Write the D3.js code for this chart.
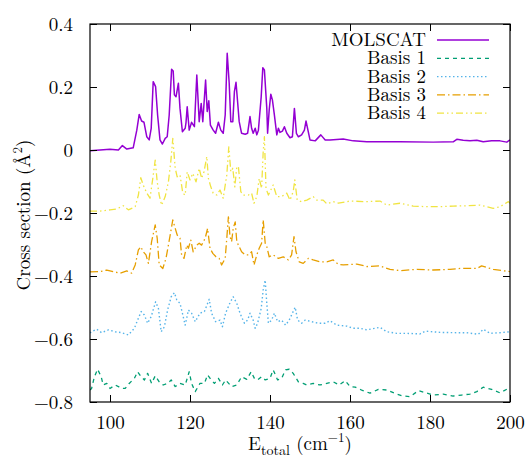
<!DOCTYPE html>
<html>
<head>
<meta charset="utf-8">
<script src="https://cdn.jsdelivr.net/npm/d3@7"></script>
<style>
  html, body { margin: 0; padding: 0; background: #fff; }
  svg { display: block; }
</style>
</head>
<body>
<svg id="chart" width="527" height="456"></svg>
<script>
// Cross sections vs total energy; basis-set curves are shifted down for clarity.
// Each series: [E_total (cm^-1), plotted cross section (Å^2)]
const molscat = [
  [95,-0.002],[100,0.002],[102.1,0.000],[103.1,0.014],[104.2,0.003],[105.8,0.007],[106.7,0.063],
  [107.3,0.113],[107.9,0.092],[108.5,0.088],[109.2,0.042],[109.8,0.032],[110.3,0.069],[110.8,0.217],
  [111.4,0.201],[111.9,0.111],[112.5,0.032],[113.1,0.019],[113.8,0.037],[114.3,0.042],[114.8,0.111],
  [115.4,0.256],[115.8,0.251],[116.1,0.175],[116.5,0.169],[117.1,0.212],[117.5,0.132],[118.1,0.058],
  [118.8,0.069],[119.0,0.087],[119.3,0.137],[119.8,0.063],[120.4,0.088],[121.1,0.074],[121.7,0.238],
  [122.3,0.090],[122.8,0.148],[123.2,0.090],[123.9,0.222],[124.3,0.122],[124.7,0.156],[125.1,0.079],
  [125.8,0.063],[126.4,0.053],[127.1,0.088],[127.7,0.063],[128.3,0.053],[128.8,0.111],[129.3,0.307],
  [129.8,0.212],[130.2,0.090],[130.7,0.090],[131.1,0.185],[131.5,0.215],[131.9,0.153],[132.3,0.090],
  [132.9,0.053],[133.8,0.050],[134.4,0.053],[135.0,0.106],[135.4,0.069],[135.8,0.053],[136.3,0.069],
  [136.7,0.048],[137.1,0.063],[137.8,0.169],[138.2,0.261],[138.6,0.254],[139.2,0.132],[139.4,0.053],
  [139.8,0.127],[140.2,0.177],[140.6,0.159],[141.1,0.111],[141.7,0.048],[142.1,0.069],[142.5,0.056],
  [143.1,0.060],[143.6,0.074],[144.2,0.053],[145.0,0.039],[145.6,0.042],[146.1,0.132],[146.6,0.053],
  [147.1,0.042],[147.9,0.048],[148.6,0.063],[149.0,0.092],[150.0,0.032],[151.3,0.029],[152.7,0.048],
  [153.8,0.032],[155.0,0.032],[158.3,0.035],[160.8,0.029],[164.2,0.026],[172.5,0.026],[180.8,0.025],
  [185.8,0.026],[186.7,0.034],[188.3,0.031],[190.0,0.029],[191.7,0.031],[193.3,0.026],[195.4,0.029],
  [197.5,0.029],[199.2,0.025],[200,0.032]
];

const basis1 = [
  [95,-0.762],[95.4,-0.757],[96.1,-0.720],[96.9,-0.696],[97.8,-0.720],[98.3,-0.746],[99.2,-0.741],
  [100.0,-0.757],[101.3,-0.746],[102.1,-0.751],[102.9,-0.757],[103.8,-0.757],[104.8,-0.741],[106.1,-0.725],
  [106.9,-0.704],[107.8,-0.720],[108.6,-0.730],[109.4,-0.709],[110.4,-0.741],[111.3,-0.717],[112.3,-0.736],
  [113.3,-0.746],[114.4,-0.741],[115.3,-0.730],[116.3,-0.751],[117.5,-0.741],[118.8,-0.746],[119.8,-0.704],
  [120.4,-0.741],[121.3,-0.767],[122.5,-0.741],[123.6,-0.741],[124.4,-0.714],[125.3,-0.730],[126.1,-0.741],
  [127.1,-0.725],[128.1,-0.746],[128.9,-0.730],[130.4,-0.751],[131.7,-0.746],[132.9,-0.720],[134.2,-0.728],
  [135.3,-0.704],[136.1,-0.725],[136.9,-0.730],[137.9,-0.720],[138.8,-0.730],[140.0,-0.725],[140.8,-0.698],
  [141.9,-0.730],[142.9,-0.725],[143.9,-0.698],[144.8,-0.696],[145.8,-0.709],[147.1,-0.736],[148.3,-0.741],
  [149.2,-0.746],[150.8,-0.741],[152.5,-0.746],[154.2,-0.741],[155.8,-0.736],[157.3,-0.746],[158.8,-0.732],
  [160.0,-0.751],[161.3,-0.753],[162.9,-0.762],[165.0,-0.772],[167.1,-0.760],[169.2,-0.762],[171.7,-0.775],
  [173.3,-0.781],[175.0,-0.783],[177.1,-0.764],[178.8,-0.770],[180.8,-0.778],[183.3,-0.775],[185.8,-0.781],
  [187.9,-0.778],[190.0,-0.775],[191.7,-0.767],[193.3,-0.753],[195.4,-0.760],[197.5,-0.771],[199.6,-0.757],
  [200,-0.762]
];

const basis2 = [
  [95,-0.581],[95.4,-0.577],[96.7,-0.569],[97.9,-0.580],[99.6,-0.571],[101.3,-0.577],[102.9,-0.580],
  [104.6,-0.587],[106.1,-0.566],[106.9,-0.540],[107.8,-0.513],[108.6,-0.524],[109.4,-0.550],[110.3,-0.529],
  [111.4,-0.482],[112.1,-0.503],[112.8,-0.577],[113.6,-0.561],[114.4,-0.508],[115.3,-0.466],[116.1,-0.453],
  [116.7,-0.476],[117.5,-0.487],[118.1,-0.518],[118.8,-0.556],[119.6,-0.508],[120.4,-0.518],[121.3,-0.545],
  [122.5,-0.518],[123.6,-0.513],[124.8,-0.474],[125.4,-0.518],[126.4,-0.545],[127.5,-0.540],[128.1,-0.561],
  [128.9,-0.518],[130.0,-0.485],[130.8,-0.466],[131.7,-0.487],[132.5,-0.518],[133.6,-0.550],[134.4,-0.540],
  [135.0,-0.518],[135.8,-0.540],[136.3,-0.566],[136.9,-0.550],[137.8,-0.503],[138.3,-0.444],[138.8,-0.413],
  [139.2,-0.487],[139.6,-0.550],[140.4,-0.540],[141.1,-0.518],[141.9,-0.545],[142.9,-0.540],[143.9,-0.556],
  [144.8,-0.540],[145.6,-0.518],[146.3,-0.499],[146.9,-0.540],[147.9,-0.550],[148.8,-0.540],[150.4,-0.545],
  [152.1,-0.550],[153.8,-0.550],[155.0,-0.542],[156.7,-0.556],[159.2,-0.559],[160.8,-0.566],[162.5,-0.566],
  [164.2,-0.571],[167.5,-0.563],[169.2,-0.577],[171.7,-0.582],[174.2,-0.582],[177.5,-0.584],[178.8,-0.575],
  [182.5,-0.579],[186.7,-0.580],[189.2,-0.580],[192.1,-0.585],[193.3,-0.569],[195.0,-0.582],[197.5,-0.580],
  [200,-0.577]
];

const basis3 = [
  [95,-0.387],[97.5,-0.386],[99.2,-0.381],[100.8,-0.386],[102.5,-0.391],[104.2,-0.384],[105.4,-0.391],
  [106.3,-0.365],[107.1,-0.317],[107.7,-0.307],[108.3,-0.323],[109.0,-0.333],[109.6,-0.360],[110.4,-0.291],
  [111.3,-0.238],[111.8,-0.280],[112.3,-0.365],[113.2,-0.376],[114.0,-0.344],[114.6,-0.302],[115.2,-0.259],
  [115.7,-0.222],[116.3,-0.249],[116.8,-0.270],[117.5,-0.280],[117.9,-0.333],[118.5,-0.344],[119.2,-0.302],
  [119.6,-0.312],[120.2,-0.286],[120.8,-0.323],[121.7,-0.302],[122.3,-0.296],[122.9,-0.302],[123.8,-0.280],
  [124.4,-0.249],[125.0,-0.312],[125.7,-0.328],[126.5,-0.339],[127.3,-0.344],[127.9,-0.365],[128.8,-0.344],
  [129.2,-0.280],[129.6,-0.212],[130.0,-0.275],[130.4,-0.291],[130.8,-0.249],[131.3,-0.228],[131.7,-0.291],
  [132.3,-0.307],[132.9,-0.323],[133.8,-0.333],[134.6,-0.333],[135.4,-0.323],[136.0,-0.365],[136.7,-0.333],
  [137.3,-0.312],[137.9,-0.296],[138.3,-0.222],[138.8,-0.296],[139.2,-0.307],[139.8,-0.339],[140.8,-0.333],
  [142.1,-0.344],[143.3,-0.339],[144.6,-0.349],[145.4,-0.333],[146.0,-0.275],[146.5,-0.323],[147.3,-0.355],
  [148.3,-0.360],[149.6,-0.344],[150.8,-0.349],[152.5,-0.355],[154.2,-0.355],[155.8,-0.349],[157.1,-0.363],
  [158.3,-0.365],[161.7,-0.362],[164.2,-0.370],[167.5,-0.368],[170.0,-0.379],[172.5,-0.383],[176.7,-0.379],
  [180.8,-0.381],[185.0,-0.379],[187.5,-0.376],[191.7,-0.376],[192.9,-0.368],[195.8,-0.379],[200,-0.386]
];

const basis4 = [
  [95,-0.194],[97.5,-0.194],[100.0,-0.190],[101.7,-0.187],[103.3,-0.177],[104.6,-0.190],[106.3,-0.180],
  [107.1,-0.143],[107.7,-0.088],[108.3,-0.111],[109.2,-0.137],[110.0,-0.153],[110.7,-0.090],[111.3,-0.032],
  [111.8,-0.101],[112.3,-0.143],[112.9,-0.175],[113.8,-0.148],[114.6,-0.101],[115.2,-0.037],[115.7,0.037],
  [116.3,-0.058],[116.8,-0.085],[117.5,-0.079],[118.2,-0.137],[118.8,-0.143],[119.3,-0.069],[120.0,-0.095],
  [120.7,-0.074],[121.5,-0.101],[122.3,-0.058],[122.9,-0.090],[123.5,-0.069],[124.2,-0.021],[124.6,-0.090],
  [125.2,-0.117],[125.8,-0.137],[126.7,-0.143],[127.5,-0.127],[128.3,-0.153],[129.2,-0.079],[129.7,0.010],
  [130.2,-0.069],[130.7,-0.058],[131.2,-0.117],[131.7,-0.053],[132.1,-0.053],[132.7,-0.132],[133.3,-0.143],
  [134.6,-0.143],[135.4,-0.137],[136.0,-0.169],[136.7,-0.148],[137.3,-0.090],[137.9,-0.122],[138.3,-0.005],
  [138.6,0.042],[139.0,-0.122],[139.6,-0.143],[140.8,-0.111],[141.7,-0.148],[142.9,-0.148],[144.2,-0.137],
  [145.0,-0.159],[145.8,-0.132],[146.2,-0.095],[146.8,-0.159],[147.9,-0.164],[149.2,-0.159],[150.8,-0.148],
  [151.7,-0.159],[153.3,-0.159],[154.2,-0.171],[155.8,-0.164],[157.1,-0.169],[160.0,-0.162],[164.2,-0.164],
  [167.5,-0.162],[169.2,-0.175],[172.5,-0.169],[175.8,-0.178],[179.2,-0.180],[182.5,-0.180],[185.8,-0.178],
  [189.2,-0.177],[192.5,-0.175],[195.8,-0.185],[197.5,-0.180],[199.6,-0.164],[200,-0.169]
];

const seriesNames = ["MOLSCAT", "Basis 1", "Basis 2", "Basis 3", "Basis 4"];
const seriesData = [molscat, basis1, basis2, basis3, basis4];
const seriesColors = ["#9400d3", "#009e73", "#56b4e9", "#e69f00", "#f0e442"];
const seriesDashes = [null, "4,4", "1.5,2.5", "8,3,1.5,3", "7,3,1.5,3,1.5,3"];
const seriesWidths = [1.5, 1.3, 1.4, 1.3, 1.3];

const xTicks = [100, 120, 140, 160, 180, 200];
const yTicks = [-0.8, -0.6, -0.4, -0.2, 0, 0.2, 0.4];

const serif = "'Latin Modern Roman', 'Liberation Serif', serif";
const svg = d3.select("#chart");
const plot = { left: 90, right: 510, top: 24, bottom: 402 };

const x = d3.scaleLinear().domain([95, 200]).range([plot.left, plot.right]);
const y = d3.scaleLinear().domain([-0.8, 0.4]).range([plot.bottom, plot.top]);

svg.append("defs").append("clipPath").attr("id", "clip")
  .append("rect")
  .attr("x", plot.left).attr("y", plot.top)
  .attr("width", plot.right - plot.left).attr("height", plot.bottom - plot.top);

// curves (background series first, reference on top)
const line = d3.line().x(d => x(d[0])).y(d => y(d[1]));
const curves = svg.append("g").attr("clip-path", "url(#clip)");
[1, 2, 3, 4, 0].forEach(i => {
  curves.append("path")
    .datum(seriesData[i])
    .attr("d", line)
    .attr("fill", "none")
    .attr("stroke", seriesColors[i])
    .attr("stroke-width", seriesWidths[i])
    .attr("stroke-dasharray", seriesDashes[i])
    .attr("stroke-linejoin", "round");
});

// axes with inward ticks, mirrored on the opposite sides
const fmtY = d => d === 0 ? "0" : d3.format(".1f")(d).replace("-", "\u2212");
const tickLen = 7;

const bottomAxis = svg.append("g").attr("transform", `translate(0,${plot.bottom})`)
  .call(d3.axisBottom(x).tickValues(xTicks).tickSizeInner(-tickLen).tickSizeOuter(0).tickPadding(14));
const topAxis = svg.append("g").attr("transform", `translate(0,${plot.top})`)
  .call(d3.axisTop(x).tickValues(xTicks).tickSizeInner(-tickLen).tickSizeOuter(0).tickFormat(""));
const leftAxis = svg.append("g").attr("transform", `translate(${plot.left},0)`)
  .call(d3.axisLeft(y).tickValues(yTicks).tickSizeInner(-tickLen).tickSizeOuter(0).tickPadding(17).tickFormat(fmtY));
const rightAxis = svg.append("g").attr("transform", `translate(${plot.right},0)`)
  .call(d3.axisRight(y).tickValues(yTicks).tickSizeInner(-tickLen).tickSizeOuter(0).tickFormat(""));

[bottomAxis, topAxis, leftAxis, rightAxis].forEach(g => {
  g.select(".domain").remove();
  g.selectAll("line").attr("stroke", "#000").attr("stroke-width", 1);
  g.selectAll("text")
    .style("font-family", serif).style("font-size", "19px").style("fill", "#000");
});

svg.append("rect")
  .attr("x", plot.left).attr("y", plot.top)
  .attr("width", plot.right - plot.left).attr("height", plot.bottom - plot.top)
  .attr("fill", "none").attr("stroke", "#000").attr("stroke-width", 1.2);

// axis titles
const yTitle = svg.append("text")
  .attr("transform", `translate(30,${(plot.top + plot.bottom) / 2 + 2}) rotate(-90)`)
  .attr("text-anchor", "middle")
  .style("font-family", serif).style("font-size", "19px");
yTitle.append("tspan").text("Cross section (Å");
yTitle.append("tspan").style("font-size", "13px").attr("dy", -8).text("2");
yTitle.append("tspan").attr("dy", 8).text(")");

const xTitle = svg.append("text")
  .attr("x", (plot.left + plot.right) / 2).attr("y", 450)
  .attr("text-anchor", "middle")
  .style("font-family", serif).style("font-size", "19px");
xTitle.append("tspan").text("E");
xTitle.append("tspan").style("font-size", "14px").attr("dy", 5).text("total");
xTitle.append("tspan").attr("dy", -5).text(" (cm");
xTitle.append("tspan").style("font-size", "13px").attr("dy", -8).text("\u22121");
xTitle.append("tspan").attr("dy", 8).text(")");

// legend
const legend = svg.append("g");
const legendY0 = 40, legendStep = 18.3;
seriesNames.forEach((name, i) => {
  const yy = legendY0 + i * legendStep;
  legend.append("text")
    .attr("x", 426).attr("y", yy + 6)
    .attr("text-anchor", "end")
    .style("font-family", serif).style("font-size", "19px")
    .text(name);
  legend.append("line")
    .attr("x1", 437).attr("x2", 489).attr("y1", yy).attr("y2", yy)
    .attr("stroke", seriesColors[i])
    .attr("stroke-width", seriesWidths[i])
    .attr("stroke-dasharray", seriesDashes[i]);
});
</script>
</body>
</html>
